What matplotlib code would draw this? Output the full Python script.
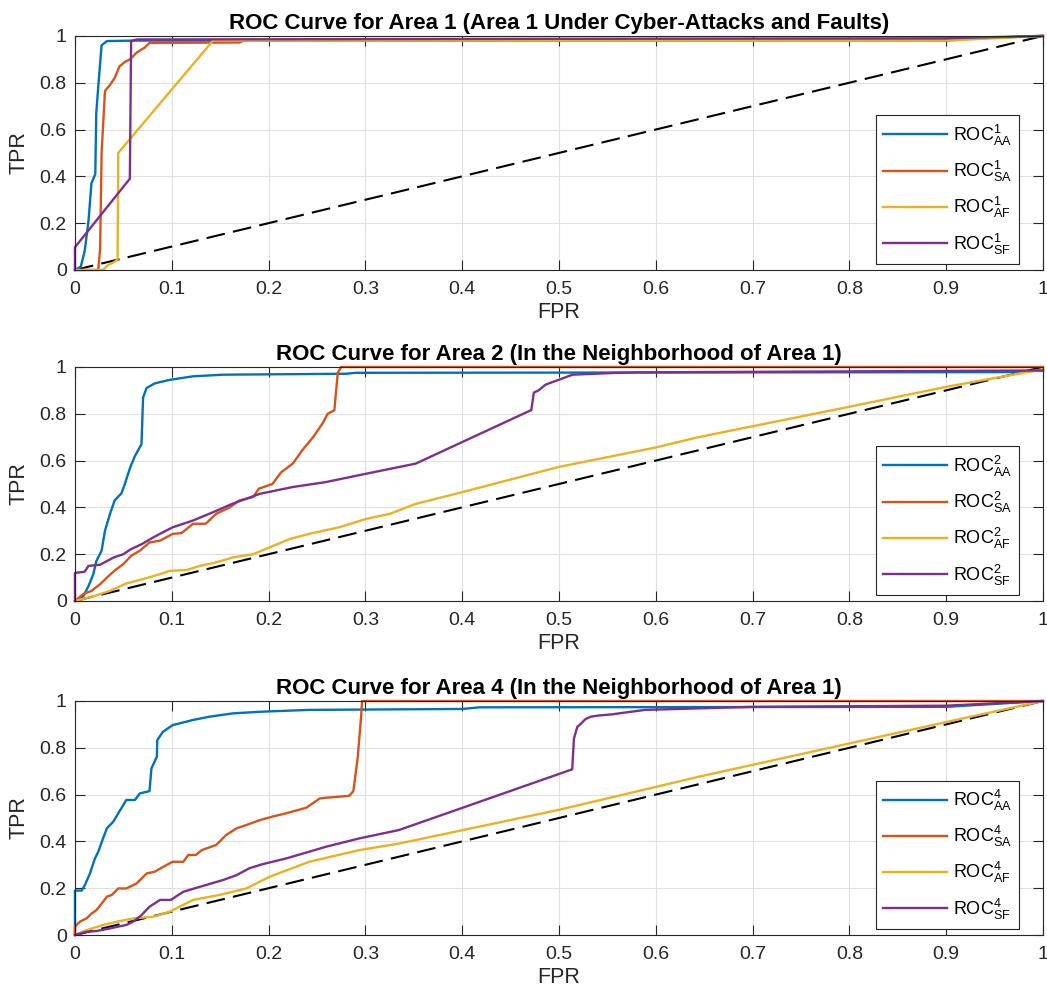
import numpy as np
import matplotlib
matplotlib.use('Agg')
import matplotlib.pyplot as plt

plt.rcParams['font.family'] = ['Liberation Sans', 'DejaVu Sans']
plt.rcParams['mathtext.fontset'] = 'custom'
plt.rcParams['mathtext.rm'] = 'Liberation Sans'
plt.rcParams['mathtext.it'] = 'Liberation Sans:italic'

# ROC points (FPR, TPR)
# Area 1
a1_aa = [(0, 0), (0.006, 0.014), (0.010, 0.08), (0.014, 0.21), (0.017, 0.37), (0.021, 0.41),
         (0.022, 0.67), (0.024, 0.78), (0.0275, 0.96), (0.033, 0.978), (0.06, 0.98), (0.5, 0.98),
         (0.9, 0.985), (1, 1)]
a1_sa = [(0, 0), (0.024, 0), (0.026, 0.09), (0.0275, 0.50), (0.031, 0.765), (0.036, 0.79),
         (0.041, 0.82), (0.046, 0.87), (0.052, 0.89), (0.057, 0.90), (0.064, 0.93), (0.072, 0.95),
         (0.077, 0.97), (0.17, 0.972), (0.175, 0.98), (0.9, 0.98), (0.93, 0.99), (1, 1)]
a1_af = [(0, 0), (0.029, 0), (0.034, 0.02), (0.041, 0.035), (0.044, 0.045), (0.0447, 0.50),
         (0.1426, 0.98), (0.9, 0.98), (1, 1)]
a1_sf = [(0, 0), (0, 0.097), (0.0567, 0.39), (0.058, 0.978), (0.064, 0.985), (0.9, 0.99), (1, 1)]

# Area 2
a2_aa = [(0, 0), (0.0086, 0.02), (0.014, 0.064), (0.019, 0.115), (0.022, 0.17), (0.0275, 0.215),
         (0.031, 0.30), (0.036, 0.37), (0.041, 0.43), (0.048, 0.46), (0.0515, 0.50), (0.057, 0.57),
         (0.062, 0.62), (0.0687, 0.67), (0.0704, 0.87), (0.074, 0.91), (0.0825, 0.93), (0.098, 0.945),
         (0.122, 0.96), (0.153, 0.967), (0.28, 0.971), (0.29, 0.975), (0.97, 0.978), (1, 0.985)]
a2_sa = [(0, 0), (0.0086, 0.03), (0.017, 0.043), (0.026, 0.072), (0.033, 0.10), (0.041, 0.13),
         (0.05, 0.158), (0.058, 0.193), (0.067, 0.215), (0.077, 0.25), (0.088, 0.258), (0.101, 0.287),
         (0.11, 0.29), (0.122, 0.33), (0.135, 0.33), (0.146, 0.373), (0.16, 0.40), (0.17, 0.43),
         (0.184, 0.444), (0.19, 0.48), (0.204, 0.50), (0.213, 0.55), (0.225, 0.587), (0.235, 0.645),
         (0.246, 0.70), (0.256, 0.76), (0.261, 0.80), (0.268, 0.815), (0.2715, 0.975), (0.275, 1.0),
         (1, 1)]
a2_af = [(0, 0), (0.019, 0.02), (0.036, 0.043), (0.053, 0.075), (0.07, 0.093), (0.088, 0.115),
         (0.098, 0.129), (0.115, 0.132), (0.129, 0.15), (0.146, 0.165), (0.163, 0.186), (0.184, 0.2),
         (0.201, 0.229), (0.222, 0.265), (0.242, 0.287), (0.273, 0.315), (0.301, 0.351), (0.325, 0.372),
         (0.352, 0.415), (0.40, 0.465), (0.50, 0.573), (0.60, 0.656), (0.644, 0.70), (0.8, 0.83),
         (0.9, 0.915), (1, 0.99)]
a2_sf = [(0, 0), (0, 0.12), (0.01, 0.125), (0.014, 0.15), (0.026, 0.155), (0.04, 0.186), (0.05, 0.2),
         (0.058, 0.222), (0.069, 0.243), (0.081, 0.272), (0.091, 0.294), (0.101, 0.315), (0.122, 0.344),
         (0.143, 0.38), (0.163, 0.416), (0.191, 0.458), (0.225, 0.487), (0.259, 0.508), (0.301, 0.544),
         (0.352, 0.587), (0.4715, 0.816), (0.474, 0.89), (0.479, 0.90), (0.486, 0.924), (0.493, 0.935),
         (0.503, 0.95), (0.514, 0.967), (0.555, 0.974), (0.582, 0.977), (1, 0.985)]

# Area 4
a4_aa = [(0, 0), (0, 0.19), (0.007, 0.19), (0.0103, 0.214), (0.0155, 0.263), (0.0206, 0.327),
         (0.024, 0.355), (0.029, 0.413), (0.033, 0.456), (0.0395, 0.484), (0.0447, 0.52), (0.05, 0.556),
         (0.053, 0.577), (0.0619, 0.577), (0.067, 0.605), (0.077, 0.615), (0.079, 0.712), (0.0846, 0.762),
         (0.085, 0.833), (0.091, 0.869), (0.101, 0.897), (0.122, 0.919), (0.139, 0.933), (0.163, 0.947),
         (0.191, 0.954), (0.242, 0.962), (0.40, 0.966), (0.418, 0.973), (0.9, 0.975), (1, 1)]
a4_sa = [(0, 0), (0, 0.036), (0.005, 0.057), (0.012, 0.071), (0.0172, 0.092), (0.0223, 0.107),
         (0.029, 0.142), (0.033, 0.164), (0.038, 0.171), (0.0447, 0.199), (0.053, 0.199), (0.0636, 0.22),
         (0.074, 0.263), (0.082, 0.27), (0.0945, 0.299), (0.101, 0.313), (0.112, 0.313), (0.117, 0.342),
         (0.125, 0.342), (0.131, 0.363), (0.146, 0.385), (0.156, 0.427), (0.167, 0.456), (0.177, 0.47),
         (0.191, 0.491), (0.204, 0.506), (0.218, 0.52), (0.239, 0.544), (0.253, 0.584), (0.26, 0.587),
         (0.27, 0.59), (0.2835, 0.595), (0.2876, 0.615), (0.292, 0.755), (0.2955, 0.926), (0.2966, 1.0),
         (1, 1)]
a4_af = [(0, 0), (0.012, 0.021), (0.029, 0.043), (0.043, 0.057), (0.06, 0.071), (0.081, 0.078),
         (0.098, 0.10), (0.122, 0.15), (0.149, 0.171), (0.177, 0.199), (0.201, 0.249), (0.242, 0.313),
         (0.294, 0.363), (0.335, 0.391), (0.5, 0.535), (0.644, 0.676), (0.9, 0.91), (1, 1)]
a4_sf = [(0, 0), (0.012, 0.014), (0.022, 0.017), (0.036, 0.028), (0.0447, 0.036), (0.053, 0.043),
         (0.06, 0.057), (0.0687, 0.085), (0.077, 0.121), (0.088, 0.15), (0.099, 0.15), (0.112, 0.185),
         (0.129, 0.206), (0.153, 0.235), (0.167, 0.256), (0.18, 0.285), (0.194, 0.303), (0.218, 0.327),
         (0.242, 0.356), (0.259, 0.377), (0.294, 0.413), (0.335, 0.449), (0.5137, 0.708), (0.5155, 0.84),
         (0.519, 0.89), (0.522, 0.90), (0.5275, 0.923), (0.533, 0.933), (0.541, 0.938), (0.555, 0.943),
         (0.569, 0.951), (0.589, 0.962), (0.7, 0.975), (0.9, 0.98), (1, 1)]

titles = ['ROC Curve for Area 1 (Area 1 Under Cyber-Attacks and Faults)',
          'ROC Curve for Area 2 (In the Neighborhood of Area 1)',
          'ROC Curve for Area 4 (In the Neighborhood of Area 1)']
area_ids = ['1', '2', '4']
kinds = ['AA', 'SA', 'AF', 'SF']
curves = [[a1_aa, a1_sa, a1_af, a1_sf],
          [a2_aa, a2_sa, a2_af, a2_sf],
          [a4_aa, a4_sa, a4_af, a4_sf]]
colors = ['#0072BD', '#D95319', '#EDB120', '#7E2F8E']

xticks = np.arange(0, 1.01, 0.1)
yticks = np.arange(0, 1.01, 0.2)
fmt = lambda v: '0' if v == 0 else ('1' if v == 1 else f'{v:.1f}')

fig = plt.figure(figsize=(10.47, 9.98), dpi=100)
bottoms = [0.7295, 0.3978, 0.0631]
dark = '#262626'

for i in range(3):
    ax = fig.add_axes([0.0716, bottoms[i], 0.9245, 0.2345])
    for c, pts, k in zip(colors, curves[i], kinds):
        p = np.array(pts)
        ax.plot(p[:, 0], p[:, 1], color=c, lw=1.7, clip_on=False,
                label=r'ROC$^{\mathregular{%s}}_{\mathregular{%s}}$' % (area_ids[i], k))
    ax.plot([0, 1], [0, 1], color='black', lw=1.5, dashes=(9, 4), zorder=1)
    ax.set_xlim(0, 1)
    ax.set_ylim(0, 1)
    ax.set_xticks(xticks)
    ax.set_xticklabels([fmt(round(v, 1)) for v in xticks])
    ax.set_yticks(yticks)
    ax.set_yticklabels([fmt(round(v, 1)) for v in yticks])
    ax.grid(True, color='#e0e0e0', lw=0.8)
    ax.set_axisbelow(True)
    ax.tick_params(direction='in', length=7, width=0.8, colors=dark, labelsize=14,
                   top=True, right=True)
    ax.tick_params(axis='x', pad=8)
    ax.tick_params(axis='y', pad=6)
    for s in ax.spines.values():
        s.set_color(dark)
        s.set_linewidth(0.8)
    ax.set_title(titles[i], fontsize=16, fontweight='bold', pad=5)
    ax.set_xlabel('FPR', fontsize=15.5, color=dark, labelpad=3)
    ax.set_ylabel('TPR', fontsize=15.5, color=dark, labelpad=7)
    leg = ax.legend(loc='lower right', bbox_to_anchor=(0.9755, 0.026), borderaxespad=0,
                    fontsize=13, handlelength=3.5, handletextpad=0.35, labelspacing=0.62,
                    fancybox=False, framealpha=1, edgecolor=dark, borderpad=0.4)
    leg.get_frame().set_linewidth(0.8)

fig.savefig('out.png', dpi=100)
